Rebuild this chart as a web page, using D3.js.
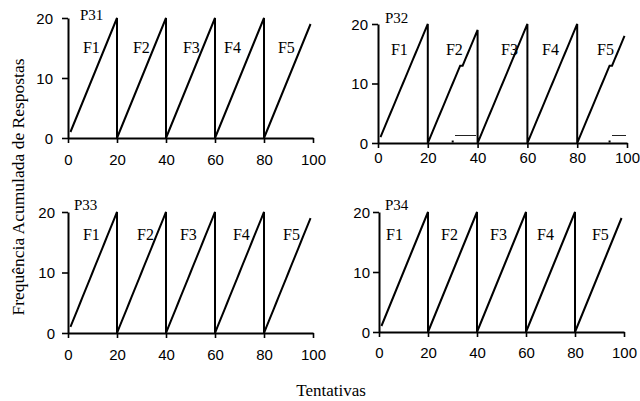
<!DOCTYPE html>
<html><head><meta charset="utf-8">
<script src="https://cdn.jsdelivr.net/npm/d3@7"></script>
<style>body{margin:0;background:#fff}svg{display:block}</style>
</head><body>
<svg id="c" width="640" height="401"></svg>
<script>
// ---- data ----
const panels = ["P31", "P32", "P33", "P34"];
const phases = ["F1", "F2", "F3", "F4", "F5"];
const phaseStartTrial = [1, 21, 41, 61, 81];
const xTicks = [0, 20, 40, 60, 80, 100];
const yTicks = [0, 10, 20];

// cumulative correct responses per trial within each phase
const cum20 = [1,2,3,4,5,6,7,8,9,10,11,12,13,14,15,16,17,18,19,20];
const cum19 = [1,2,3,4,5,6,7,8,9,10,11,12,13,14,15,16,17,18,19];
const p32F2 = [1,2,3,4,5,6,7,8,9,10,11,12,13,13,14,15,16,17,18,19];
const p32F5 = [1,2,3,4,5,6,7,8,9,10,11,12,13,13,14,15,16,17,18];

const seriesP31 = [cum20, cum20, cum20, cum20, cum19];
const seriesP32 = [cum20, p32F2, cum20, cum20, p32F5];
const seriesP33 = [cum20, cum20, cum20, cum20, cum19];
const seriesP34 = [cum20, cum20, cum20, cum20, cum19];
const allSeries = [seriesP31, seriesP32, seriesP33, seriesP34];

// cumulative errors (only visible in P32): [trial, value]
const errorsP32 = [
  [[31, 1.2], [39.5, 1.2]],
  [[94, 1.2], [99.5, 1.2]]
];
const errorStartP32 = [30, 93];
const allErrors = [[], errorsP32, [], []];
const allErrorStarts = [[], errorStartP32, [], []];

// ---- layout (not data) ----
const layout = [
  {x0: 68,  x1: 313, yT: 18,  yB: 138, tlb: 165, ylGap: 15},
  {x0: 378, x1: 627, yT: 24,  yB: 143, tlb: 163, ylGap: 10},
  {x0: 68,  x1: 313, yT: 212, yB: 333, tlb: 360, ylGap: 13},
  {x0: 379, x1: 624, yT: 212, yB: 332, tlb: 358, ylGap: 9}
];
// annotation anchors in data units
const panelLabelAt = [[4.9, 19.7], [2.8, 20.2], [2.4, 20.3], [2.4, 20.3]];
const phaseLabelX = [
  [6.1, 26.5, 46.9, 63.7, 85.7],
  [5.2, 27.3, 49.4, 65.9, 88.0],
  [6.1, 28.2, 45.7, 67.3, 87.8],
  [2.9, 25.3, 45.3, 64.5, 86.9]
];
const phaseLabelY = [14.2, 14.8, 15.4, 15.3];

const serif = "'Times New Roman', 'Liberation Serif', serif";
const sans = "Arial, 'Liberation Sans', sans-serif";
const svg = d3.select("#c");

panels.forEach((name, i) => {
  const L = layout[i];
  const x = d3.scaleLinear().domain([0, 100]).range([L.x0, L.x1]);
  const y = d3.scaleLinear().domain([0, 20]).range([L.yB, L.yT]);
  const g = svg.append("g");

  // continuous cumulative path with reset to 0 at end of each phase
  const pts = [];
  allSeries[i].forEach((vals, p) => {
    vals.forEach((v, k) => pts.push([phaseStartTrial[p] + k, v]));
    if (p < phases.length - 1) pts.push([phaseStartTrial[p] + vals.length - 1, 0]);
  });
  const line = d3.line().x(d => x(d[0])).y(d => y(d[1]));

  allErrors[i].forEach(seg => {
    g.append("path").attr("d", line(seg)).attr("fill", "none")
      .attr("stroke", "#222").attr("stroke-width", 1)
      .attr("shape-rendering", "crispEdges");
  });

  const xa = g.append("g").attr("transform", `translate(0,${L.yB})`)
    .call(d3.axisBottom(x).tickValues(xTicks).tickSize(5).tickSizeOuter(0));
  xa.selectAll("text").attr("y", L.tlb - L.yB).attr("dy", null)
    .style("font-family", sans).style("font-size", "15px").attr("fill", "#000");
  const ya = g.append("g").attr("transform", `translate(${L.x0},0)`)
    .call(d3.axisLeft(y).tickValues(yTicks).tickSize(6).tickSizeOuter(0));
  ya.selectAll("text").attr("x", -L.ylGap).attr("dy", "0.35em")
    .style("font-family", sans).style("font-size", "15px").attr("fill", "#000");
  g.selectAll(".domain").attr("stroke", "#000").attr("stroke-width", 2);
  g.selectAll(".tick line").attr("stroke", "#000").attr("stroke-width", 1.6);

  allErrorStarts[i].forEach(t => {
    g.append("rect").attr("x", x(t) - 1).attr("y", y(0) - 2.5)
      .attr("width", 2).attr("height", 2).attr("fill", "#000");
  });

  g.append("path").attr("d", line(pts)).attr("fill", "none")
    .attr("stroke", "#000").attr("stroke-width", 2).attr("stroke-linejoin", "miter");

  g.append("text").attr("x", x(panelLabelAt[i][0])).attr("y", y(panelLabelAt[i][1]))
    .style("font-family", serif).style("font-size", "15px").text(name);
  phases.forEach((f, p) => {
    g.append("text").attr("x", x(phaseLabelX[i][p])).attr("y", y(phaseLabelY[i]))
      .style("font-family", serif).style("font-size", "16px").text(f);
  });
});

svg.append("text").attr("transform", "translate(24,187) rotate(-90)")
  .attr("text-anchor", "middle").style("font-family", serif).style("font-size", "17.5px")
  .text("Frequência Acumulada de Respostas");
svg.append("text").attr("x", 331).attr("y", 396).attr("text-anchor", "middle")
  .style("font-family", serif).style("font-size", "17px").text("Tentativas");
</script>
</body></html>
